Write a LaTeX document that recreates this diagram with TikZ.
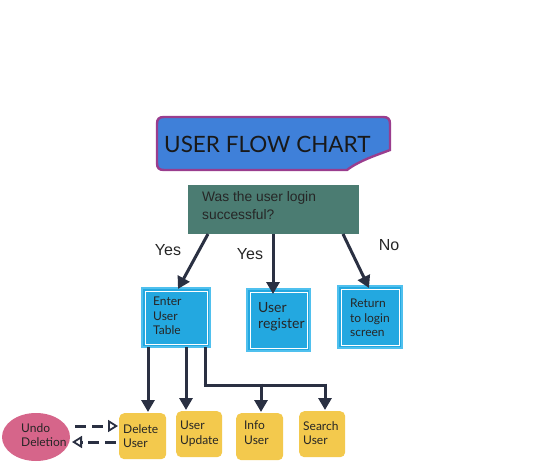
\documentclass[tikz,border=0pt]{standalone}
\usepackage{fontspec}
\setmainfont{Lato}
\newfontfamily\arialf{Liberation Sans}
\usetikzlibrary{arrows.meta,positioning,shapes.geometric}
\definecolor{ttlblue}{HTML}{3F80D9}
\definecolor{ttlpurple}{HTML}{9A3D8E}
\definecolor{qgreen}{HTML}{4B7C72}
\definecolor{bblue}{HTML}{23A8E0}
\definecolor{bblueedge}{HTML}{4FC0EE}
\definecolor{ylw}{HTML}{F3C94D}
\definecolor{pnk}{HTML}{D6658A}
\definecolor{navy}{HTML}{2A3042}
\tikzset{
  x=1pt,y=-1pt,
  ylwbox/.style={fill=ylw,rounded corners=5pt,inner sep=0pt,anchor=north west},
  flow/.style={draw=navy,line width=3pt,-{Triangle[length=12pt,width=13pt]}},
  plain/.style={draw=navy,line width=3pt},
  dsh/.style={draw=navy,line width=3pt,dash pattern=on 11pt off 6pt,-{Triangle[open,length=10pt,width=12pt,line width=1.8pt]}},
  txt/.style={font=\fontsize{12}{14.5}\selectfont,align=left,anchor=north west,inner sep=0pt,text=black!85},
  lbl/.style={font=\arialf\fontsize{16}{18}\selectfont,text=black!85}
}
\begin{document}
\begin{tikzpicture}
\useasboundingbox (0,0) rectangle (542,474);
% title
\draw[ttlpurple,line width=2.4pt,fill=ttlblue]
  (164,117) -- (383,117) .. controls (388,117) and (390,119) .. (390,124)
  -- (390,150) .. controls (380,154) and (360,160) .. (347,170)
  -- (164,170) .. controls (159,170) and (157,168) .. (157,163)
  -- (157,124) .. controls (157,119) and (159,117) .. (164,117) -- cycle;
\node[font=\fontsize{22.5}{24}\selectfont,anchor=west,inner sep=0pt,text=black!90] (title) at (164,144) {USER FLOW CHART};
% question
\node[fill=qgreen,minimum width=171pt,minimum height=49pt,anchor=north west,inner sep=0pt] (q) at (188,185) {};
\node[font=\arialf\fontsize{13.8}{18}\selectfont,align=left,anchor=north west,inner sep=0pt,text=black!85] (qt) at (202,191) {Was the user login\\successful?};
% blue boxes
\draw[bblueedge,line width=1.4pt,fill=bblue] (142,288) rectangle (210,347);
\draw[white,line width=0.8pt] (145,291) rectangle (207,344);
\node[txt] (et) at (153,297) {Enter\\User\\Table};
\draw[bblueedge,line width=1.4pt,fill=bblue] (247,289) rectangle (310,351);
\draw[white,line width=0.8pt] (250,292) rectangle (307,348);
\node[txt,font=\fontsize{14}{16.5}\selectfont] (rt) at (258,302) {User\\register};
\draw[bblueedge,line width=1.4pt,fill=bblue] (338,286) rectangle (402,348);
\draw[white,line width=0.8pt] (341,289) rectangle (399,345);
\node[txt] (lt) at (350,299) {Return\\to login\\screen};
% arrows from question
\coordinate (q1) at (208,234);
\coordinate (q2) at (273,234);
\coordinate (q3) at (343,234);
\coordinate (e1) at (178,289);
\coordinate (e2) at (273,294);
\coordinate (e3) at (369,288);
\draw[flow] (q1) -- (e1);
\draw[flow] (q2) -- (e2);
\draw[flow] (q3) -- (e3);
\node[lbl] (y1) at (168,250) {Yes};
\node[lbl] (y2) at (250,254) {Yes};
\node[lbl] (n1) at (389,245) {No};
% yellow boxes
\node[ylwbox,minimum width=47pt,minimum height=46pt] (del) at (119,413) {};
\node[txt] at (123,424) {Delete\\User};
\node[ylwbox,minimum width=46pt,minimum height=46pt] (upd) at (176,411) {};
\node[txt] at (180,421) {User\\Update};
\node[ylwbox,minimum width=47pt,minimum height=47pt] (inf) at (236,413) {};
\node[txt] at (244,421) {Info\\User};
\node[ylwbox,minimum width=46pt,minimum height=46pt] (srch) at (299,411) {};
\node[txt] at (303,421) {Search\\User};
% ellipse
\node[ellipse,fill=pnk,minimum width=68pt,minimum height=48pt,inner sep=0pt] (undo) at (36,437) {};
\node[txt,align=left] at (21,423) {Undo\\Deletion};
% down lines
\coordinate (d1s) at (148,347);
\coordinate (d1e) at (148,412);
\coordinate (d2s) at (186,347);
\coordinate (d2e) at (186,410);
\coordinate (d3s) at (205,347);
\coordinate (d3c) at (205,386.5);
\coordinate (h0) at (203.5,385);
\coordinate (h1) at (326.5,385);
\coordinate (i1) at (261,383.5);
\coordinate (i1e) at (261,412);
\coordinate (s1) at (325,383.5);
\coordinate (s1e) at (325,410);
\draw[flow] (d1s) -- (d1e);
\draw[flow] (d2s) -- (d2e);
\draw[plain] (d3s) -- (d3c);
\draw[plain] (h0) -- (h1);
\draw[flow] (i1) -- (i1e);
\draw[flow] (s1) -- (s1e);
% dashed
\coordinate (a1) at (75,426);
\coordinate (a2) at (118,426);
\coordinate (b1) at (116,442);
\coordinate (b2) at (72,442);
\draw[dsh] (a1) -- (a2);
\draw[dsh] (b1) -- (b2);
\end{tikzpicture}
\end{document}
